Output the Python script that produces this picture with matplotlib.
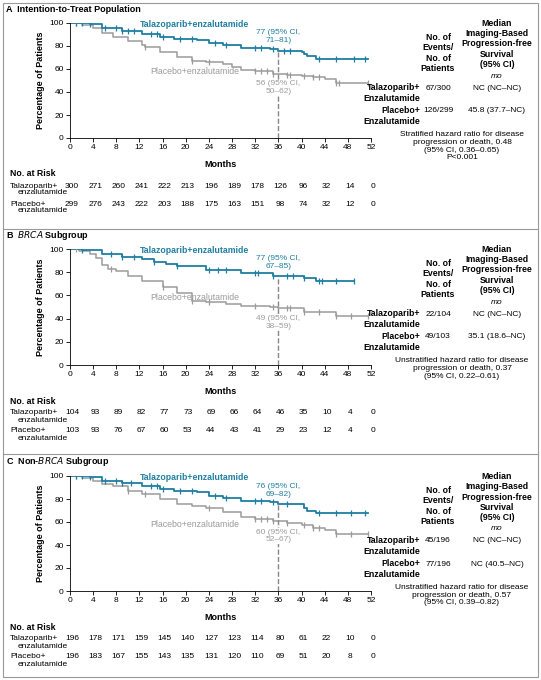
import matplotlib
matplotlib.use("Agg")
import matplotlib.pyplot as plt
from matplotlib.patches import Rectangle

plt.rcParams['font.family'] = ['Liberation Sans', 'DejaVu Sans']

months_ticks = list(range(0, 53, 4))

# Panel A
a_tala_t = [0,3.5,5.5,9,12.5,15.5,18,22,24,26.5,29.5,34.5,36,40,40.5,41,42.5,51.5]
a_tala_s = [100,99,96,93,90,88,86,85,83,81,78,77,76,75,73,71,69,69]
a_tala_c = [1,2,3.5,6,8,9,10,11,14,15,16,19,21,25,27,32,33,35,37,38,43,46,49,51]
a_plac_t = [0,2,4,5.5,7.5,10,12.5,13,15.5,18.5,21,23.5,26.5,28,29.5,32,35,37.5,40,42,44,46,51.5]
a_plac_s = [100,98,96,91,88,84,81,79,75,70,67,66,64,62,59,58,56,55,54,53,51,48,48]
a_plac_c = [1,13,21,24,32,33,34,35,37.5,38,40.5,42,43,46,46.5,51.5]
a_risk_tala = [300,271,260,241,222,213,196,189,178,126,96,32,14,0]
a_risk_plac = [299,276,243,222,203,188,175,163,151,98,74,32,12,0]

# Panel B
b_tala_t = [0,2,5.5,9,12.5,14.5,16.5,18.5,23.5,29.5,35,40.5,42.5,49]
b_tala_s = [100,99,96,93,91,89,87,85,82,79,77,75,72,72]
b_tala_c = [2,7,9,11,14.5,18.5,24,25.5,27,32,32.5,35,37.5,38.5,40.5,43,43.5,46,49]
b_plac_t = [0,1.5,3.5,4.5,5.5,6.5,8,10,12.5,16,18.5,21,23.5,27,29.5,34.5,36,40.5,46,51.5]
b_plac_s = [100,98,96,92,86,83,81,77,72,67,62,55,54,53,51,50,49,46,42,42]
b_plac_c = [1,7,16,21,24,32,35,37.5,38,40.5,43,46,48.5,51.5]
b_risk_tala = [104,93,89,82,77,73,69,66,64,46,35,10,4,0]
b_risk_plac = [103,93,76,67,60,53,44,43,41,29,23,12,4,0]

# Panel C
c_tala_t = [0,3.5,5.5,9,12.5,15.5,18,22,24,26.5,29.5,34.5,36,40,40.5,41,42.5,51.5]
c_tala_s = [100,99,96,94,91,89,87,86,83,81,78,77,76,76,72,70,68,68]
c_tala_c = [1,2,3.5,6,8,9,10.5,14,15,16,19,21,25,27,32,33,35,37.5,43,46,48.5,51]
c_plac_t = [0,2,4,5.5,7.5,10,12.5,15.5,18.5,21,23.5,26.5,29.5,32,35,37.5,40,42,44,46,51.5]
c_plac_s = [100,98,96,93,91,87,84,80,76,74,72,69,64,63,61,59,57,55,53,50,50]
c_plac_c = [1,10,13,24,32,33,34,35,37.5,40.5,42,43,46,48.5,51.5]
c_risk_tala = [196,178,171,159,145,140,127,123,114,80,61,22,10,0]
c_risk_plac = [196,183,167,155,143,135,131,120,110,69,51,20,8,0]

TEAL = '#1f7ea1'
GRAY = '#9b9b9b'
W, H = 541, 680

fig = plt.figure(figsize=(5.41, 6.8), dpi=100)
fig.patches.append(Rectangle((3/W, 3/H), 535/W, 674/H, transform=fig.transFigure,
                             fill=False, ec='#999999', lw=0.8))
for yy in (229, 454):
    fig.add_artist(plt.Line2D([3/W, 538/W], [1-yy/H, 1-yy/H], color='#999999', lw=0.8))

def fx(x): return x / W
def fy(y): return 1 - y / H

def step_at(t, s, x):
    v = s[0]
    for ti, si in zip(t, s):
        if ti <= x: v = si
    return v

panels = [
    dict(title=r'A  Intention-to-Treat Population', top=23, bot=138, ytitle=10,
         tt=a_tala_t, ts=a_tala_s, tc=a_tala_c, pt=a_plac_t, ps=a_plac_s, pc=a_plac_c,
         rt=a_risk_tala, rp=a_risk_plac, tl='77 (95% CI,\n71–81)', pl='56 (95% CI,\n50–62)', pv=56,
         tlv=77, ev=['67/300', '126/299'], med=['NC (NC–NC)', '45.8 (37.7–NC)'],
         hr='Stratified hazard ratio for disease\nprogression or death, 0.48\n(95% CI, 0.36–0.65)\nP<0.001'),
    dict(title=r'B  $\mathbf{\it{BRCA}}$ Subgroup', top=249, bot=365, ytitle=236,
         tt=b_tala_t, ts=b_tala_s, tc=b_tala_c, pt=b_plac_t, ps=b_plac_s, pc=b_plac_c,
         rt=b_risk_tala, rp=b_risk_plac, tl='77 (95% CI,\n67–85)', pl='49 (95% CI,\n38–59)', pv=49,
         tlv=77, ev=['22/104', '49/103'], med=['NC (NC–NC)', '35.1 (18.6–NC)'],
         hr='Unstratified hazard ratio for disease\nprogression or death, 0.37\n(95% CI, 0.22–0.61)'),
    dict(title=r'C  Non-$\mathbf{\it{BRCA}}$ Subgroup', top=476, bot=591, ytitle=462,
         tt=c_tala_t, ts=c_tala_s, tc=c_tala_c, pt=c_plac_t, ps=c_plac_s, pc=c_plac_c,
         rt=c_risk_tala, rp=c_risk_plac, tl='76 (95% CI,\n69–82)', pl='60 (95% CI,\n52–67)', pv=60,
         tlv=76, ev=['45/196', '77/196'], med=['NC (NC–NC)', 'NC (40.5–NC)'],
         hr='Unstratified hazard ratio for disease\nprogression or death, 0.57\n(95% CI, 0.39–0.82)'),
]

for p in panels:
    x0, x1 = 70, 371
    ax = fig.add_axes([fx(x0), fy(p['bot']), (x1-x0)/W, (p['bot']-p['top'])/H])
    ax.step(p['pt'], p['ps'], where='post', color=GRAY, lw=1.1)
    ax.step(p['tt'], p['ts'], where='post', color=TEAL, lw=1.3)
    ax.plot(p['pc'], [step_at(p['pt'], p['ps'], c) for c in p['pc']], '|', color=GRAY, ms=5, mew=0.9)
    ax.plot(p['tc'], [step_at(p['tt'], p['ts'], c) for c in p['tc']], '|', color=TEAL, ms=5, mew=0.9)
    ax.plot([36, 36], [0, p['tlv']], ls='--', color='#888888', lw=1)
    ax.set_xlim(0, 52); ax.set_ylim(0, 100)
    ax.set_xticks(months_ticks); ax.set_yticks(range(0, 101, 20))
    ax.tick_params(labelsize=6, length=3, width=0.6, pad=1.5)
    for s in ('top', 'right'): ax.spines[s].set_visible(False)
    for s in ('left', 'bottom'): ax.spines[s].set_linewidth(0.6)
    ax.set_xlabel('Months', fontsize=6.5, fontweight='bold', labelpad=6)
    ax.set_ylabel('Percentage of Patients', fontsize=6.5, fontweight='bold', labelpad=3)
    ax.text(21.5, 99, 'Talazoparib+enzalutamide', color=TEAL, fontsize=6.3, fontweight='bold', ha='center', va='center')
    ax.text(21.5, 58, 'Placebo+enzalutamide', color=GRAY, fontsize=6.3, ha='center', va='center')
    ax.text(36, p['tlv'] + 5, p['tl'], color=TEAL, fontsize=6, ha='center', va='bottom', linespacing=1.1)
    ax.text(36, p['pv'] - 6, p['pl'], color=GRAY, fontsize=6, ha='center', va='top', linespacing=1.1,
            bbox=dict(fc='white', ec='none', pad=0.3))

    fig.text(fx(6), fy(p['ytitle']), p['title'], fontsize=6.5, fontweight='bold', va='center')

    # risk table
    ry = p['bot'] + 36
    fig.text(fx(10), fy(ry), 'No. at Risk', fontsize=6.3, fontweight='bold', va='center')
    for k, (lab1, lab2, vals) in enumerate([('Talazoparib+', 'enzalutamide', p['rt']),
                                            ('Placebo+', 'enzalutamide', p['rp'])]):
        yy = ry + 12 + k * 18
        fig.text(fx(10), fy(yy), lab1, fontsize=6, va='center')
        fig.text(fx(18), fy(yy + 7), lab2, fontsize=6, va='center')
        for m, v in zip(months_ticks, vals):
            fig.text(fx(x0 + (x1 - x0) * m / 52 + 2), fy(yy), str(v), fontsize=6, ha='center', va='center')

    # right table
    t0 = p['top']
    fig.text(fx(438), fy(t0 + 30), 'No. of\nEvents/\nNo. of\nPatients', fontsize=6.3, fontweight='bold',
             ha='center', va='center', linespacing=1.15)
    fig.text(fx(497), fy(t0 + 21), 'Median\nImaging-Based\nProgression-free\nSurvival\n(95% CI)', fontsize=6.3,
             fontweight='bold', ha='center', va='center', linespacing=1.15)
    fig.text(fx(497), fy(t0 + 53), 'mo', fontsize=6, style='italic', ha='center', va='center')
    for k, lab in enumerate(['Talazoparib+\nEnzalutamide', 'Placebo+\nEnzalutamide']):
        yy = t0 + 70 + k * 23
        fig.text(fx(420), fy(yy), lab, fontsize=6.3, fontweight='bold', ha='right', va='center', linespacing=1.15)
        fig.text(fx(438), fy(yy - 5), p['ev'][k], fontsize=6, ha='center', va='center')
        fig.text(fx(497), fy(yy - 5), p['med'][k], fontsize=6, ha='center', va='center')
    fig.text(fx(462), fy(t0 + 108), p['hr'], fontsize=6, ha='center', va='top', linespacing=1.15)

fig.savefig('out.png', dpi=100)
